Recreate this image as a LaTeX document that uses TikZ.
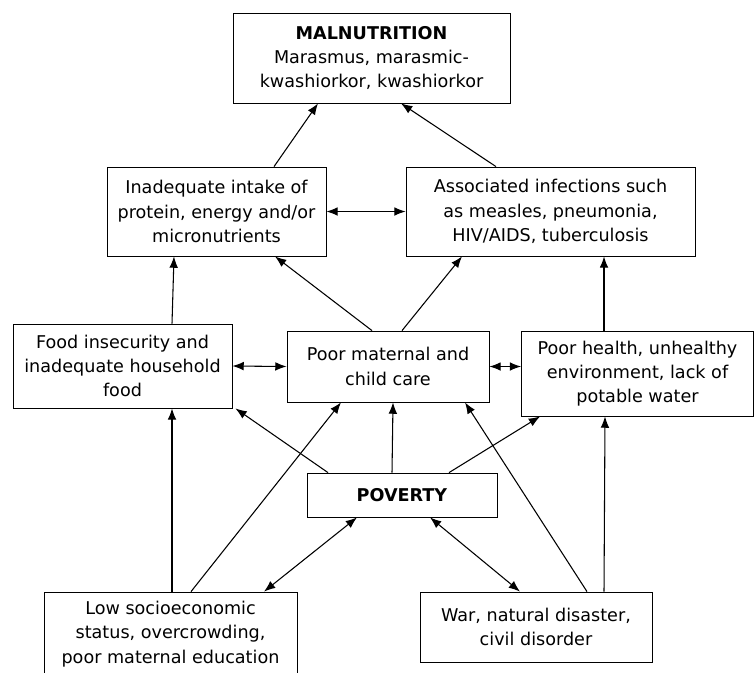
\documentclass[tikz,border=0pt]{standalone}
\usepackage{fontspec}
\setmainfont{DejaVu Sans}
\usetikzlibrary{arrows.meta,positioning}

\begin{document}
\begin{tikzpicture}[x=0.75pt,y=-0.75pt,>={Latex[length=8.5pt,width=6.5pt]},
    box/.style={draw,line width=0.6pt,align=center,inner sep=0pt,
        font=\fontsize{13.2}{18.2}\selectfont},
    link/.style={line width=0.8pt}]
    \useasboundingbox (0,0) rectangle (755,672);
    \node[box,minimum width=277*0.75pt,minimum height=90*0.75pt] (Mal) at (371.5,58) {\textbf{MALNUTRITION}\\Marasmus, marasmic-\\kwashiorkor, kwashiorkor};
    \node[box,minimum width=219*0.75pt,minimum height=89*0.75pt] (Intake) at (216.5,211.5) {Inadequate intake of\\protein, energy and/or\\micronutrients};
    \node[box,minimum width=289*0.75pt,minimum height=89*0.75pt] (Infect) at (550.5,211.5) {Associated infections such\\as measles, pneumonia,\\HIV/AIDS, tuberculosis};
    \node[box,minimum width=219*0.75pt,minimum height=84*0.75pt] (Food) at (122.5,366) {Food insecurity and\\inadequate household\\food};
    \node[box,minimum width=202*0.75pt,minimum height=71*0.75pt] (Care) at (388,366.5) {Poor maternal and\\child care};
    \node[box,minimum width=232*0.75pt,minimum height=85*0.75pt] (Health) at (637.5,373.5) {Poor health, unhealthy\\environment, lack of\\potable water};
    \node[box,minimum width=190*0.75pt,minimum height=44*0.75pt] (Pov) at (402,495) {\textbf{POVERTY}};
    \node[box,minimum width=253*0.75pt,minimum height=84*0.75pt] (Low) at (170.5,634) {Low socioeconomic\\status, overcrowding,\\poor maternal education};
    \node[box,minimum width=232*0.75pt,minimum height=70*0.75pt] (War) at (536,627) {War, natural disaster,\\civil disorder};
    % upper level
    \draw[link,->] ([shift={(57.5,0)}]Intake.north)--([shift={(-53.5,0)}]Mal.south);
    \draw[link,->] ([shift={(-54.5,0)}]Infect.north)--([shift={(29.5,0)}]Mal.south);
    \draw[link,<->] (Intake.east)--(Infect.west);
    % middle level
    \draw[link,->] ([shift={(49.5,0)}]Food.north)--([shift={(-42.5,0)}]Intake.south);
    \draw[link,->] ([shift={(-16,0)}]Care.north)--([shift={(58.5,0)}]Intake.south);
    \draw[link,->] ([shift={(14,0)}]Care.north)--([shift={(-88.5,0)}]Infect.south);
    \draw[link,->] ([shift={(-33.5,0)}]Health.north)--([shift={(53.5,0)}]Infect.south);
    \draw[link,<->] (Food.east)--(Care.west);
    \draw[link,<->] (Care.east)--(Care.east-|Health.west);
    % poverty
    \draw[link,->] ([shift={(-74,0)}]Pov.north)--([shift={(3,0)}]Food.south east);
    \draw[link,->] ([shift={(-10,0)}]Pov.north)--([shift={(5,0)}]Care.south);
    \draw[link,->] ([shift={(47,0)}]Pov.north)--([shift={(19,0)}]Health.south west);
    \draw[link,<->] ([shift={(-45,0)}]Pov.south)--([shift={(93.5,0)}]Low.north);
    \draw[link,<->] ([shift={(28,0)}]Pov.south)--([shift={(-16,0)}]War.north);
    % bottom level
    \draw[link,->] ([shift={(1.5,0)}]Low.north)--([shift={(49.5,0)}]Food.south);
    \draw[link,->] ([shift={(20.5,0)}]Low.north)--([shift={(-47,0)}]Care.south);
    \draw[link,->] ([shift={(51,0)}]War.north)--([shift={(77,0)}]Care.south);
    \draw[link,->] ([shift={(68,0)}]War.north)--([shift={(-32.5,0)}]Health.south);
\end{tikzpicture}
\end{document}
